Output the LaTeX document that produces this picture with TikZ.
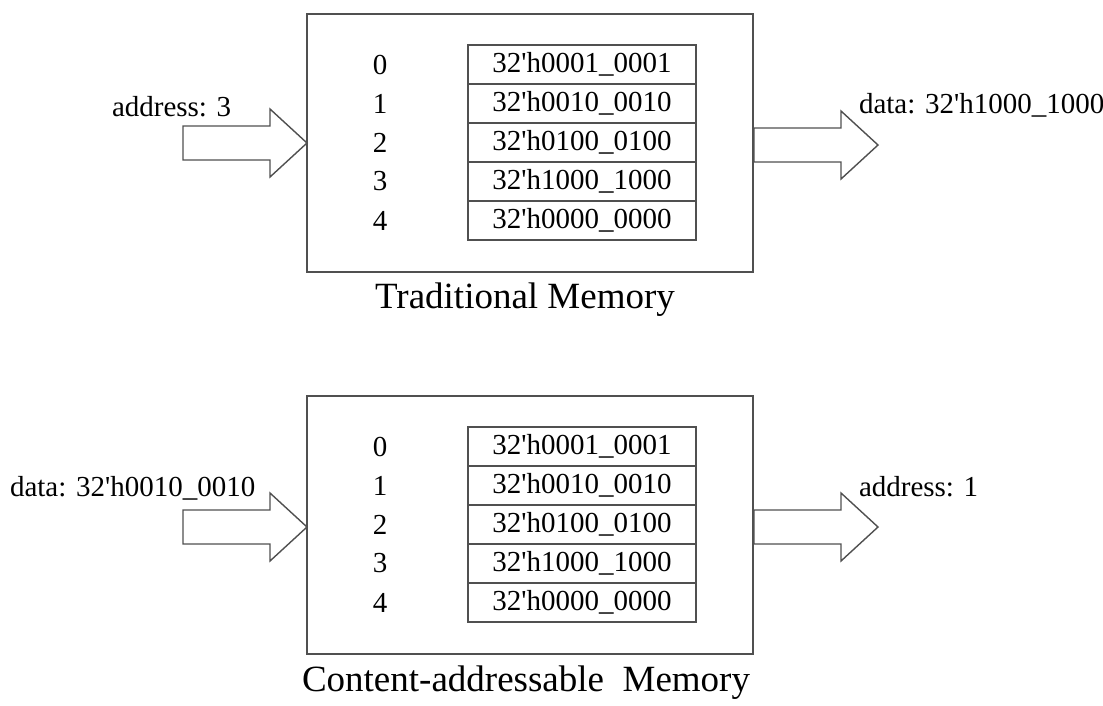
\documentclass[tikz,border=0pt]{standalone}
\usepackage{fontspec}
\setmainfont{Liberation Serif}
\definecolor{linegray}{HTML}{505050}
% hexadecimal word in Verilog notation
\newcommand\hexw[2]{32\textquotesingle h#1\_#2}
\begin{document}
\begin{tikzpicture}[x=1pt,y=-1pt,
  every node/.style={inner sep=0pt, outer sep=0pt, text=black},
  lbl/.style={font=\fontsize{29}{34}\selectfont},
  ttl/.style={font=\fontsize{37}{44}\selectfont},
  frame/.style={draw=linegray, line width=1.6pt, minimum width=446, minimum height=258, anchor=north west},
  cell/.style={draw=linegray, line width=1.4pt, minimum width=228, minimum height=39, anchor=north west, lbl},
  blockline/.style={draw=linegray, line width=1.4pt, line join=miter, fill=white},
  % hollow block arrow, origin at its tip
  blockarrow/.pic={
    \draw[blockline] (0,0) -- (-37,-34) -- (-37,-17) -- (-124,-17)
      -- (-124,17) -- (-37,17) -- (-37,34) -- cycle;
  },
  % memory: outer frame, address column and data table
  memory/.pic={
    \node[frame] (-box) at (307,14) {};
    \foreach \i/\a/\b in {0/0001/0001,1/0010/0010,2/0100/0100,3/1000/1000,4/0000/0000}{
      \node[cell] (-r\i) at (468,45+39*\i) {\hexw{\a}{\b}};
      \node[lbl] (-i\i) at (380,64.5+39*\i) {\i};
    }
  }
]
\useasboundingbox (0,0) rectangle (1103,705);

% traditional memory: address in, data out
\pic (trad) at (0,0) {memory};
\pic at (trad-box.west) {blockarrow};
\pic at ([xshift=125pt,yshift=-2pt]trad-box.east) {blockarrow};
\node[lbl, anchor=west] (tradin) at (112,107) {address: 3};
\node[lbl, anchor=west] (tradout) at (859,105) {data: \hexw{1000}{1000}};
\node[ttl] (tradtitle) at (525,300) {Traditional Memory};

% content-addressable memory: data in, address out
\pic (cam) at (0,382) {memory};
\pic at ([yshift=-2pt]cam-box.west) {blockarrow};
\pic at ([xshift=125pt,yshift=-2pt]cam-box.east) {blockarrow};
\node[lbl, anchor=west] (camin) at (10,488) {data: \hexw{0010}{0010}};
\node[lbl, anchor=west] (camout) at (859,487) {address: 1};
\node[ttl] (camtitle) at (526,683) {Content-addressable\hspace{0.25em} Memory};
\end{tikzpicture}
\end{document}
